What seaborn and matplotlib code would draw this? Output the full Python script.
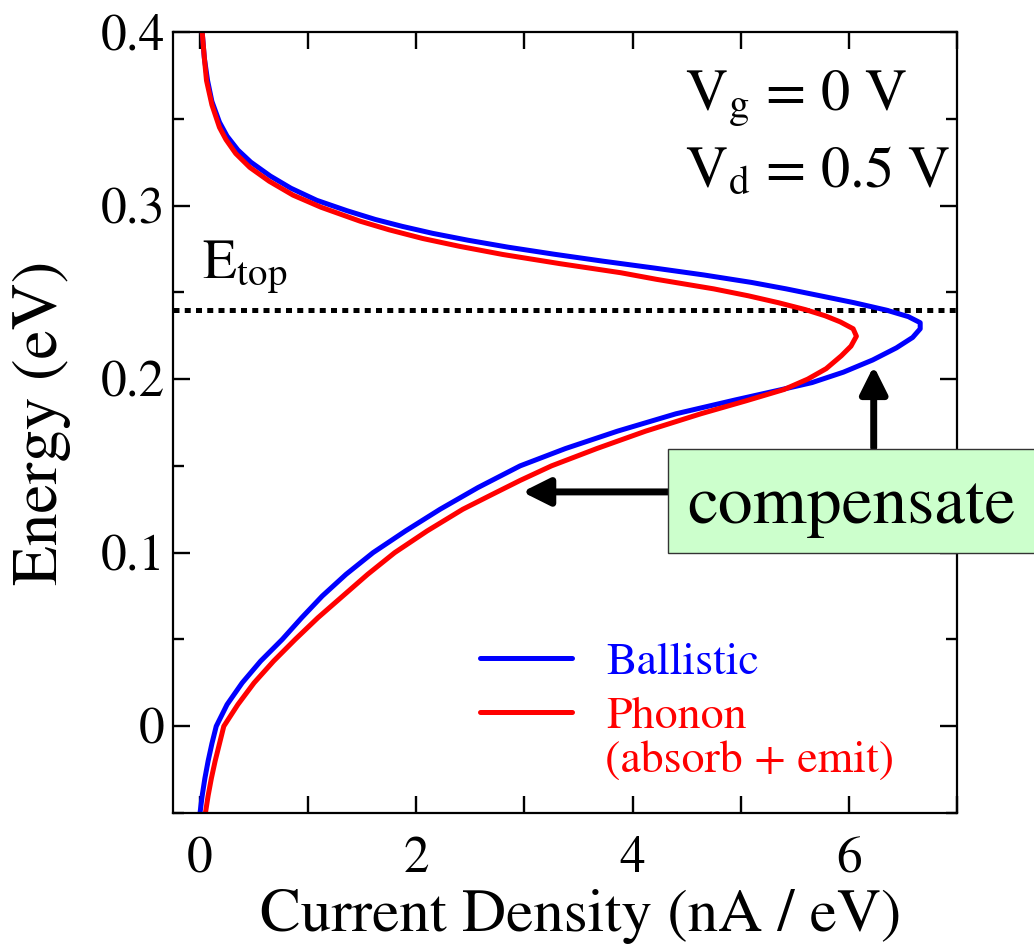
import os
import matplotlib
matplotlib.use("Agg")
import matplotlib.pyplot as plt
import pandas as pd
import seaborn as sns
from matplotlib.lines import Line2D
from matplotlib.patches import Rectangle
from matplotlib.ticker import MultipleLocator, FuncFormatter
from matplotlib import font_manager

# Energy-resolved current density (nA/eV) for the two transport models
energy_ballistic = [-0.05, -0.04, -0.03, -0.02, -0.01, 0.0, 0.0125, 0.025, 0.0375, 0.05,
                    0.0625, 0.075, 0.0875, 0.10, 0.1125, 0.125, 0.1375, 0.15, 0.16, 0.17,
                    0.18, 0.188, 0.194, 0.198, 0.204, 0.211, 0.218, 0.224, 0.229, 0.2325,
                    0.236, 0.2397, 0.244, 0.2477, 0.252, 0.2557, 0.26, 0.264, 0.268, 0.272,
                    0.276, 0.28, 0.284, 0.288, 0.292, 0.297, 0.303, 0.31, 0.317, 0.325,
                    0.332, 0.34, 0.348, 0.36, 0.372, 0.385, 0.40]
current_ballistic = [0.00, 0.02, 0.045, 0.075, 0.11, 0.15, 0.25, 0.39, 0.56, 0.76,
                     0.94, 1.13, 1.35, 1.60, 1.90, 2.22, 2.57, 2.96, 3.38, 3.86,
                     4.40, 4.95, 5.38, 5.66, 5.95, 6.22, 6.44, 6.59, 6.66, 6.66,
                     6.55, 6.35, 6.05, 5.76, 5.42, 5.10, 4.66, 4.20, 3.72, 3.27,
                     2.85, 2.48, 2.15, 1.87, 1.62, 1.36, 1.08, 0.84, 0.65, 0.47,
                     0.35, 0.25, 0.18, 0.11, 0.07, 0.04, 0.02]

energy_phonon = [-0.05, -0.04, -0.03, -0.02, -0.01, 0.0, 0.0125, 0.025, 0.0375, 0.05,
                 0.0625, 0.075, 0.0875, 0.10, 0.1125, 0.125, 0.1335, 0.1416, 0.15, 0.16,
                 0.17, 0.18, 0.1875, 0.194, 0.20, 0.206, 0.2134, 0.219, 0.2247, 0.229,
                 0.233, 0.2365, 0.24, 0.244, 0.248, 0.252, 0.2575, 0.2613, 0.2665, 0.2718,
                 0.2765, 0.281, 0.286, 0.291, 0.299, 0.306, 0.314, 0.322, 0.33, 0.338,
                 0.345, 0.358, 0.372, 0.385, 0.40]
current_phonon = [0.05, 0.075, 0.105, 0.14, 0.18, 0.22, 0.35, 0.50, 0.68, 0.88,
                  1.09, 1.32, 1.55, 1.80, 2.10, 2.43, 2.70, 2.96, 3.25, 3.67,
                  4.12, 4.63, 5.05, 5.40, 5.62, 5.79, 5.93, 6.02, 6.07, 6.04,
                  5.92, 5.78, 5.60, 5.35, 5.07, 4.75, 4.22, 3.89, 3.33, 2.80,
                  2.40, 2.06, 1.75, 1.48, 1.12, 0.86, 0.64, 0.46, 0.33, 0.24,
                  0.18, 0.11, 0.06, 0.04, 0.02]

series_names = ["Ballistic", "Phonon"]
series_colors = ["#0000ff", "#ff0000"]
e_top = 0.24

sns.set_theme(style="ticks")
# Times-like face shipped with matplotlib
SERIF_PATH = os.path.join(matplotlib.get_data_path(), "fonts", "ttf", "STIXGeneral.ttf")
font_manager.fontManager.addfont(SERIF_PATH)
serif_name = font_manager.FontProperties(fname=SERIF_PATH).get_name()
plt.rcParams["font.family"] = [serif_name, "DejaVu Serif"]
plt.rcParams["mathtext.fontset"] = "stix"


def tfont(size):
    return font_manager.FontProperties(fname=SERIF_PATH, size=size)


df = pd.concat([
    pd.DataFrame({"energy": energy_ballistic, "current": current_ballistic,
                  "series": series_names[0]}),
    pd.DataFrame({"energy": energy_phonon, "current": current_phonon,
                  "series": series_names[1]}),
], ignore_index=True)

fig = plt.figure(figsize=(10.34, 9.49), dpi=100)
ax = fig.add_axes([0.1673, 0.1433, 0.7582, 0.8230])

sns.lineplot(data=df, x="current", y="energy", hue="series",
             hue_order=series_names, palette=dict(zip(series_names, series_colors)),
             orient="y", estimator=None, lw=3.6, legend=False, ax=ax)

# Top of the barrier
ax.axhline(e_top, color="black", lw=3.6, linestyle=(0, (1.2, 1.05)), zorder=1)

ax.set_xlim(-0.25, 7.0)
ax.set_ylim(-0.05, 0.4)
ax.xaxis.set_major_locator(MultipleLocator(2))
ax.xaxis.set_minor_locator(MultipleLocator(1))
ax.yaxis.set_major_locator(MultipleLocator(0.1))
ax.yaxis.set_minor_locator(MultipleLocator(0.05))
ax.xaxis.set_major_formatter(FuncFormatter(lambda v, p: f"{v:.0f}"))
ax.yaxis.set_major_formatter(FuncFormatter(lambda v, p: "0" if abs(v) < 1e-9 else f"{v:.1f}"))

ax.tick_params(which="both", direction="in", top=True, right=True, width=1.7,
               color="black", labelsize=37, labelcolor="black")
ax.tick_params(axis="x", which="both", length=12, pad=17)
ax.tick_params(axis="y", which="major", length=12, pad=6)
ax.tick_params(axis="y", which="minor", length=8)
for lab in ax.get_xticklabels() + ax.get_yticklabels():
    lab.set_fontproperties(tfont(37))
for sp in ax.spines.values():
    sp.set_linewidth(1.6)
    sp.set_color("black")

ax.set_xlabel("Current Density (nA / eV)", fontproperties=tfont(44), labelpad=4,
              color="black")
ax.xaxis.label.set_x(0.52)
ax.set_ylabel("Energy (eV)", fontproperties=tfont(47), labelpad=21, color="black")

# Annotations
ax.text(0.037, 0.685, r"E$_\mathrm{top}$", transform=ax.transAxes,
        fontproperties=tfont(40), va="baseline", color="black")
ax.text(0.653, 0.900, r"V$_\mathrm{g}$ = 0 V", transform=ax.transAxes,
        fontproperties=tfont(42), va="baseline", color="black")
ax.text(0.653, 0.8015, r"V$_\mathrm{d}$ = 0.5 V", transform=ax.transAxes,
        fontproperties=tfont(42), va="baseline", color="black")

handles = [Line2D([], [], color=c, lw=3.6) for c in series_colors]
ax.legend(handles, series_names, loc="upper left", bbox_to_anchor=(0.392, 0.2186),
          frameon=False, prop=tfont(33), handlelength=2.0, handletextpad=0.75,
          labelspacing=0.26, borderpad=0, borderaxespad=0, labelcolor="linecolor")
ax.text(0.551, 0.0525, "(absorb + emit)", transform=ax.transAxes,
        fontproperties=tfont(33), va="baseline", color="#ff0000")

# "compensate" call-out box with its two arrows
box = Rectangle((0.646, 0.417), 0.40, 0.1096, transform=fig.transFigure,
                facecolor="#ccffcc", edgecolor="#333333", lw=1.0, clip_on=False,
                zorder=5)
fig.patches.append(box)
fig.text(0.665, 0.449, "compensate", fontproperties=tfont(50),
         va="baseline", ha="left", color="black", zorder=6)

arrow_style = dict(arrowstyle="-|>", lw=5, color="black", mutation_scale=41,
                   shrinkA=0, shrinkB=0)
ax.annotate("", xy=(6.23, 0.2075), xytext=(6.23, 0.1603), arrowprops=arrow_style,
            annotation_clip=False)
ax.annotate("", xy=(2.98, 0.135), xytext=(4.33, 0.135), arrowprops=arrow_style,
            annotation_clip=False)

fig.savefig("out.png", dpi=100)
